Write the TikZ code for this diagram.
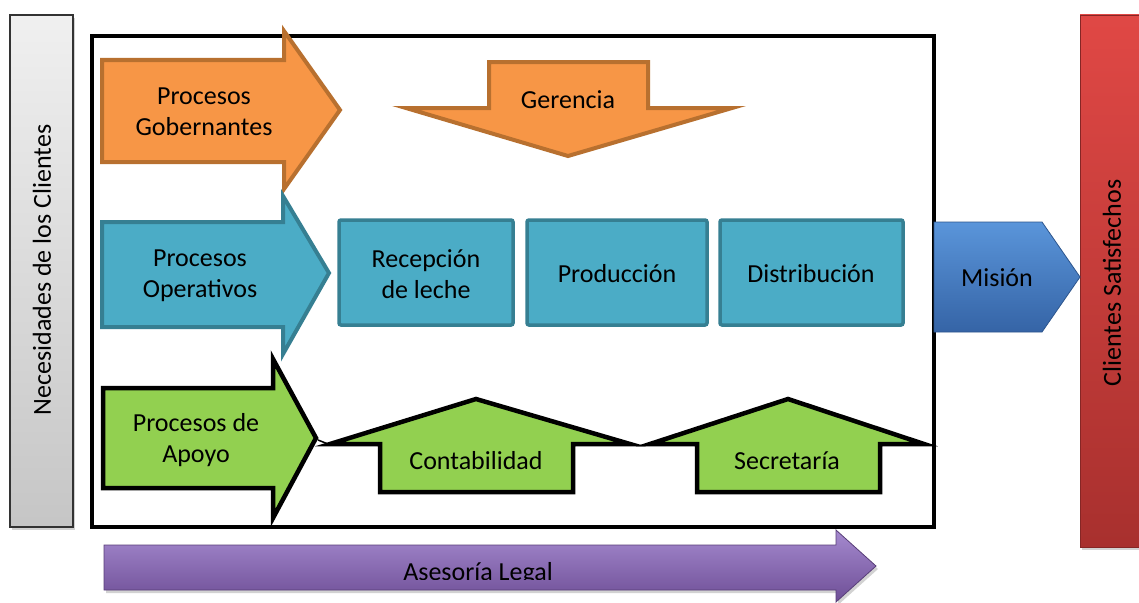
\documentclass[tikz,border=0pt]{standalone}
\usepackage{fontspec}
\setmainfont{Carlito}
\usetikzlibrary{shadows}
\definecolor{orfill}{HTML}{F79646}
\definecolor{ordraw}{HTML}{B8702F}
\definecolor{blfill}{HTML}{4BACC6}
\definecolor{bldraw}{HTML}{367F92}
\definecolor{grfill}{HTML}{92D050}
\definecolor{mitop}{HTML}{5A95DA}
\definecolor{mibot}{HTML}{3564A6}
\definecolor{redtop}{HTML}{E04845}
\definecolor{redbot}{HTML}{A8302E}
\definecolor{putop}{HTML}{A58ACF}
\definecolor{pubot}{HTML}{6E4E96}
\tikzset{
  lbl/.style={font=\fontsize{26}{31}\selectfont, align=center, inner sep=0pt, text=black},
  orarrow/.style={fill=orfill, draw=ordraw, line width=4pt, line join=miter},
  blarrow/.style={fill=blfill, draw=bldraw, line width=4pt, line join=miter},
  grarrow/.style={fill=grfill, draw=black, line width=4.5pt, line join=miter},
  stepbox/.style={fill=blfill, draw=bldraw, line width=3.5pt, rounded corners=2pt},
  sideshadow/.style={drop shadow={shadow xshift=2pt, shadow yshift=-3pt, opacity=0.35}},
}
\begin{document}
\begin{tikzpicture}[x=1pt,y=-1pt]
\useasboundingbox (0,0) rectangle (1139,602);
\fill[white] (0,0) rectangle (1139,602);

% side bars
\path[sideshadow, top color=gray!12, bottom color=gray!45, draw=black!80, line width=1.5pt] (10,15) rectangle (73,527);
\node[lbl, rotate=90] (need) at (42,270) {Necesidades de los Clientes};

\path[sideshadow, top color=redtop, bottom color=redbot, draw=redbot!80!black, line width=0.8pt] (1080,15) rectangle (1146,547);
\node[lbl, rotate=90] (sat) at (1112,283) {Clientes Satisfechos};

% main frame
\draw[line width=4pt, line join=miter] (92,36) rectangle (934,527);

% governing processes
\draw[orarrow] (102,60) -- (284,60) -- (284,31) -- (340,110) -- (284,189) -- (284,162) -- (102,162) -- cycle;
\node[lbl] (gob) at (204,112) {Procesos\\Gobernantes};
\draw[orarrow] (489,62) -- (648,62) -- (648,108) -- (732,108) -- (568,156) -- (406,108) -- (489,108) -- cycle;
\node[lbl] (ger) at (568,100) {Gerencia};

% operative processes
\draw[blarrow] (102,222) -- (283,222) -- (283,196) -- (329,273) -- (283,354) -- (283,327) -- (102,327) -- cycle;
\node[lbl] (ope) at (200,276) {Procesos\\Operativos};
\draw[stepbox] (339,220) rectangle (513,325);
\node[lbl] (rec) at (426,274) {Recepción\\de leche};
\draw[stepbox] (527,220) rectangle (707,325);
\node[lbl] (pro) at (617,274) {Producción};
\draw[stepbox] (720,220) rectangle (903,325);
\node[lbl] (dis) at (811,274) {Distribución};

% mission
\path[top color=mitop, bottom color=mibot, draw=mibot!85!black, line width=0.8pt] (934,222) -- (1042,222) -- (1080,277) -- (1042,332) -- (934,332) -- cycle;
\node[lbl] (mis) at (997,278) {Misión};

% support processes
\draw[grarrow] (103,388) -- (273,388) -- (273,359) -- (316,438) -- (273,518) -- (273,488) -- (103,488) -- cycle;
\node[lbl] (apo) at (196,440) {Procesos de\\Apoyo};
\draw[black, line width=1.5pt] (318,440) -- (328,444);
\draw[grarrow] (330,444) -- (476,399) -- (630,444) -- (573,444) -- (573,492) -- (380,492) -- (380,444) -- cycle;
\node[lbl] (con) at (476,461) {Contabilidad};
\draw[grarrow] (650,444) -- (788,399) -- (924,444) -- (880,444) -- (880,492) -- (697,492) -- (697,444) -- cycle;
\node[lbl] (sec) at (787,461) {Secretaría};

% legal advice
\path[sideshadow, top color=putop, bottom color=pubot, draw=pubot!80!black, line width=0.8pt] (104,545) -- (836,545) -- (836,530) -- (876,566) -- (836,602) -- (836,590) -- (104,590) -- cycle;
\begin{scope}
\clip (104,545) rectangle (836,579);
\node[lbl, anchor=base] (leg) at (478,580) {Asesoría Legal};
\end{scope}
\end{tikzpicture}
\end{document}
